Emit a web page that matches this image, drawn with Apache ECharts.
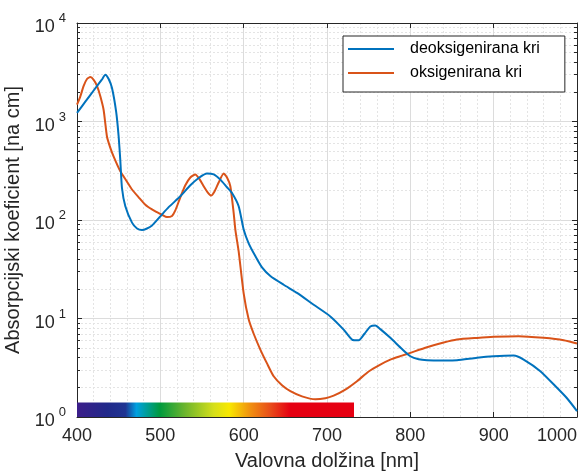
<!DOCTYPE html>
<html>
<head>
<meta charset="utf-8">
<script src="https://cdn.jsdelivr.net/npm/echarts@6/dist/echarts.min.js"></script>
<style>
html,body{margin:0;padding:0;background:#fff;}
#chart{width:584px;height:471px;}
</style>
</head>
<body>
<div id="chart"></div>
<script>
// Deoxygenated blood (deoksigenirana kri)
const deoxyWavelength = [400,410,420,430,434,438,442,447,450,452,454,458,466,472,478,484,490,500,510,524,536,546,556,564,572,580,586,594,600,606,614,622,632,648,664,684,704,720,730,738,745,752,758,764,776,790,800,810,820,840,856,880,900,924,936,956,976,988,1000];
const deoxyValues = [1222,1590,2065,2680,2990,2700,2190,1250,700,400,210,138,94,82,79,82,88,109,135,174,225,267,296,290,257,215,188,138,80,58,43,33,27,22,18.2,13.8,10.5,7.7,6.1,6.0,7.0,8.3,8.5,7.8,6.36,4.9,4.14,3.85,3.77,3.75,3.77,4.0,4.14,4.21,3.83,2.92,1.98,1.55,1.15];
// Oxygenated blood (oksigenirana kri)
const oxyWavelength = [400,404,408,412,416,420,424,428,432,436,440,444,452,460,466,474,482,490,496,502,508,514,518,524,530,536,542,547,552,557,561,565,570,576,580,584,588,590,594,600,606,612,620,628,636,646,656,670,686,698,708,722,736,750,764,776,790,800,820,840,856,880,900,930,960,984,1000];
const oxyValues = [1480,1800,2300,2700,2830,2650,2300,1800,1300,700,540,440,312,245,204,170,143,128,120,113,107,110,125,170,225,270,290,260,220,190,177,195,240,296,270,220,118,80,48,18,9.8,7.0,4.84,3.5,2.59,2.1,1.83,1.62,1.51,1.55,1.65,1.9,2.31,2.9,3.41,3.83,4.2,4.48,5.1,5.7,6.11,6.35,6.51,6.61,6.36,6.02,5.57];
const seriesNames = ['deoksigenirana kri','oksigenirana kri'];
const xTicks = [400,500,600,700,800,900,1000];
const yTicks = [1,10,100,1000,10000];
// visible spectrum bar (wavelength range)
const spectrumRange = [400,738];

const chart = echarts.init(document.getElementById('chart'), null, {renderer:'canvas'});
const pairs = (xs, ys) => xs.map((x,i)=>[x, ys[i]]);
const font = '"Liberation Sans", Arial, Helvetica, sans-serif';
const axisColor = '#262626';

const option = {
  animation:false,
  backgroundColor:'#fff',
  textStyle:{fontFamily:font},
  grid:{left:77,right:7,top:23,bottom:54,containLabel:false,outerBoundsMode:'none'},
  legend:{
    orient:'vertical',left:343,top:36,
    padding:[5,25,11,5],
    itemGap:8,itemWidth:46,itemHeight:2,icon:'rect',
    backgroundColor:'#fff',borderColor:axisColor,borderWidth:1,
    textStyle:{fontSize:16,color:'#000',lineHeight:16,padding:[0,0,0,11],fontFamily:font},
    data:seriesNames
  },
  xAxis:[{
    type:'value',min:xTicks[0],max:xTicks[xTicks.length-1],interval:100,
    name:'Valovna dolžina [nm]',nameLocation:'middle',nameGap:34,
    nameTextStyle:{fontSize:20,color:axisColor,fontFamily:font},
    axisLine:{show:true,onZero:false,lineStyle:{color:axisColor,width:1}},
    axisTick:{show:true,inside:true,length:5,lineStyle:{color:axisColor}},
    axisLabel:{fontSize:18,color:axisColor,margin:10,alignMaxLabel:'right',fontFamily:font,formatter:v=>String(v)},
    splitLine:{show:true,lineStyle:{color:'#dcdcdc',width:1}},
    minorTick:{show:false,splitNumber:5},
    minorSplitLine:{show:true,lineStyle:{color:'#e4e4e4',width:1,type:[2,2]}}
  },{
    type:'value',position:'top',min:xTicks[0],max:xTicks[xTicks.length-1],interval:100,
    axisLine:{show:true,onZero:false,lineStyle:{color:axisColor,width:1}},
    axisTick:{show:true,inside:true,length:5,lineStyle:{color:axisColor}},
    axisLabel:{show:false},splitLine:{show:false}
  }],
  yAxis:[{
    type:'log',logBase:10,min:yTicks[0],max:yTicks[yTicks.length-1],
    name:'Absorpcijski koeficient [na cm]',nameLocation:'middle',nameGap:40,
    nameTextStyle:{fontSize:20,color:axisColor,fontFamily:font},
    axisLine:{show:true,onZero:false,lineStyle:{color:axisColor,width:1}},
    axisTick:{show:true,inside:true,length:5,lineStyle:{color:axisColor}},
    minorTick:{show:true,splitNumber:9,length:3,lineStyle:{color:axisColor}},
    axisLabel:{margin:11,color:axisColor,padding:[2,0,0,0],
      formatter:v=>'{b|10}{s|'+Math.round(Math.log10(v))+'}',
      rich:{
        b:{fontSize:18,color:axisColor,fontFamily:font,lineHeight:18,padding:[7,0,0,0]},
        s:{fontSize:13,color:axisColor,fontFamily:font,lineHeight:14,padding:[0,0,11,4]}
      }},
    splitLine:{show:true,lineStyle:{color:'#dcdcdc',width:1}},
    minorSplitLine:{show:true,lineStyle:{color:'#e4e4e4',width:1,type:[2,2]}}
  },{
    type:'log',logBase:10,position:'right',min:yTicks[0],max:yTicks[yTicks.length-1],
    axisLine:{show:true,onZero:false,lineStyle:{color:axisColor,width:1}},
    axisTick:{show:true,inside:true,length:5,lineStyle:{color:axisColor}},
    minorTick:{show:true,splitNumber:9,length:3,lineStyle:{color:axisColor}},
    axisLabel:{show:false},splitLine:{show:false}
  }],
  series:[{
    name:seriesNames[0],type:'line',showSymbol:false,smooth:0.2,
    lineStyle:{color:'#0072BD',width:2},itemStyle:{color:'#0072BD'},
    data:pairs(deoxyWavelength,deoxyValues),z:3
  },{
    name:seriesNames[1],type:'line',showSymbol:false,smooth:0.2,
    lineStyle:{color:'#D95319',width:2},itemStyle:{color:'#D95319'},
    data:pairs(oxyWavelength,oxyValues),z:2,
    markArea:{
      silent:true,
      itemStyle:{color:new echarts.graphic.LinearGradient(0,0,1,0,[
        {offset:0,color:'#3c1e8a'},
        {offset:0.108,color:'#21298a'},
        {offset:0.172,color:'#1f3492'},
        {offset:0.211,color:'#00a0e0'},
        {offset:0.294,color:'#009a3e'},
        {offset:0.383,color:'#6cb52e'},
        {offset:0.486,color:'#d6df1a'},
        {offset:0.54,color:'#f8e800'},
        {offset:0.615,color:'#f09010'},
        {offset:0.687,color:'#e84c1a'},
        {offset:0.757,color:'#e50012'},
        {offset:0.982,color:'#e60012'},
        {offset:0.983,color:'#ffffff'},
        {offset:1,color:'#ffffff'}
      ])},
      data:[[{xAxis:spectrumRange[0],yAxis:1},{xAxis:spectrumRange[1],yAxis:1.4}]]
    }
  }]
};
chart.setOption(option);
</script>
</body>
</html>
